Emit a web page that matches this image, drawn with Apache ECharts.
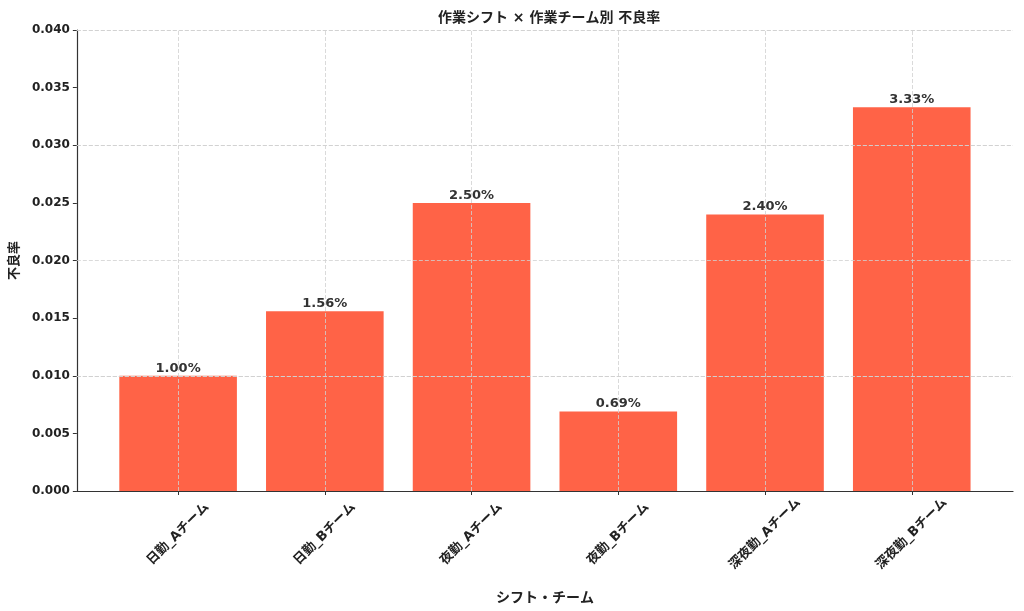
<!DOCTYPE html>
<html><head><meta charset="utf-8">
<script src="https://cdn.jsdelivr.net/npm/echarts@6/dist/echarts.min.js"></script>
<style>html,body{margin:0;padding:0;background:#fff}#c{width:1024px;height:611px}</style>
</head><body><div id="c"></div>
<script>
const categories = ["日勤_Aチーム","日勤_Bチーム","夜勤_Aチーム","夜勤_Bチーム","深夜勤_Aチーム","深夜勤_Bチーム"];
const defectRates = [0.0100, 0.0156, 0.0250, 0.0069, 0.0240, 0.0333];
const yTicks = [0, 0.005, 0.010, 0.015, 0.020, 0.025, 0.030, 0.035, 0.040];

const FONT = "'DejaVu Sans', 'Noto Sans CJK JP', sans-serif";
const idx = categories.map((_, i) => i);
const chart = echarts.init(document.getElementById('c'));
const gridLine = {color: '#d0d0d0', type: [4, 2], width: 0.8};
chart.setOption({
  animation: false,
  title: {
    text: '作業シフト × 作業チーム別 不良率',
    left: 433, top: 6,
    textStyle: {fontFamily: FONT, fontSize: 14, fontWeight: 'bold', color: '#222'}
  },
  grid: {left: 76, right: 11, top: 30, bottom: 120, containLabel: false},
  xAxis: {
    type: 'value', min: -0.69, max: 5.69,
    name: 'シフト・チーム', nameLocation: 'middle', nameGap: 100,
    nameTextStyle: {fontFamily: FONT, fontSize: 14, fontWeight: 'bold', color: '#222'},
    axisLine: {show: true, onZero: false, lineStyle: {color: '#333', width: 1.2}},
    axisTick: {show: true, customValues: idx, length: 4, lineStyle: {color: '#333'}},
    axisLabel: {
      customValues: idx, rotate: 45, align: 'center', verticalAlign: 'middle', margin: 43,
      formatter: v => categories[Math.round(v)] || '',
      fontFamily: FONT, fontSize: 13, fontWeight: 'bold', color: '#222'
    },
    splitLine: {show: false}
  },
  yAxis: {
    type: 'value', min: 0, max: 0.04, interval: 0.005,
    name: '不良率', nameLocation: 'middle', nameGap: 49, nameRotate: 90,
    nameTextStyle: {fontFamily: FONT, fontSize: 13, fontWeight: 'bold', color: '#222'},
    axisLine: {show: true, onZero: false, lineStyle: {color: '#333', width: 1.2}},
    axisTick: {show: true, length: 4, lineStyle: {color: '#333'}},
    axisLabel: {
      formatter: v => v.toFixed(3), margin: 7,
      fontFamily: FONT, fontSize: 12, fontWeight: 'bold', color: '#222'
    },
    splitLine: {show: false}
  },
  series: [{
    type: 'bar',
    data: defectRates.map((v, i) => [i, v]),
    barWidth: 117.6,
    itemStyle: {color: '#FF6347'},
    label: {
      show: true, position: 'top', distance: 1,
      formatter: p => (p.value[1] * 100).toFixed(2) + '%',
      fontFamily: FONT, fontSize: 13, fontWeight: 'bold', color: '#333'
    },
    markLine: {
      silent: true, symbol: 'none', label: {show: false},
      lineStyle: gridLine,
      data: idx.map(i => ({xAxis: i})).concat(yTicks.slice(1).map(t => ({yAxis: t})))
    }
  }]
});
</script></body></html>
